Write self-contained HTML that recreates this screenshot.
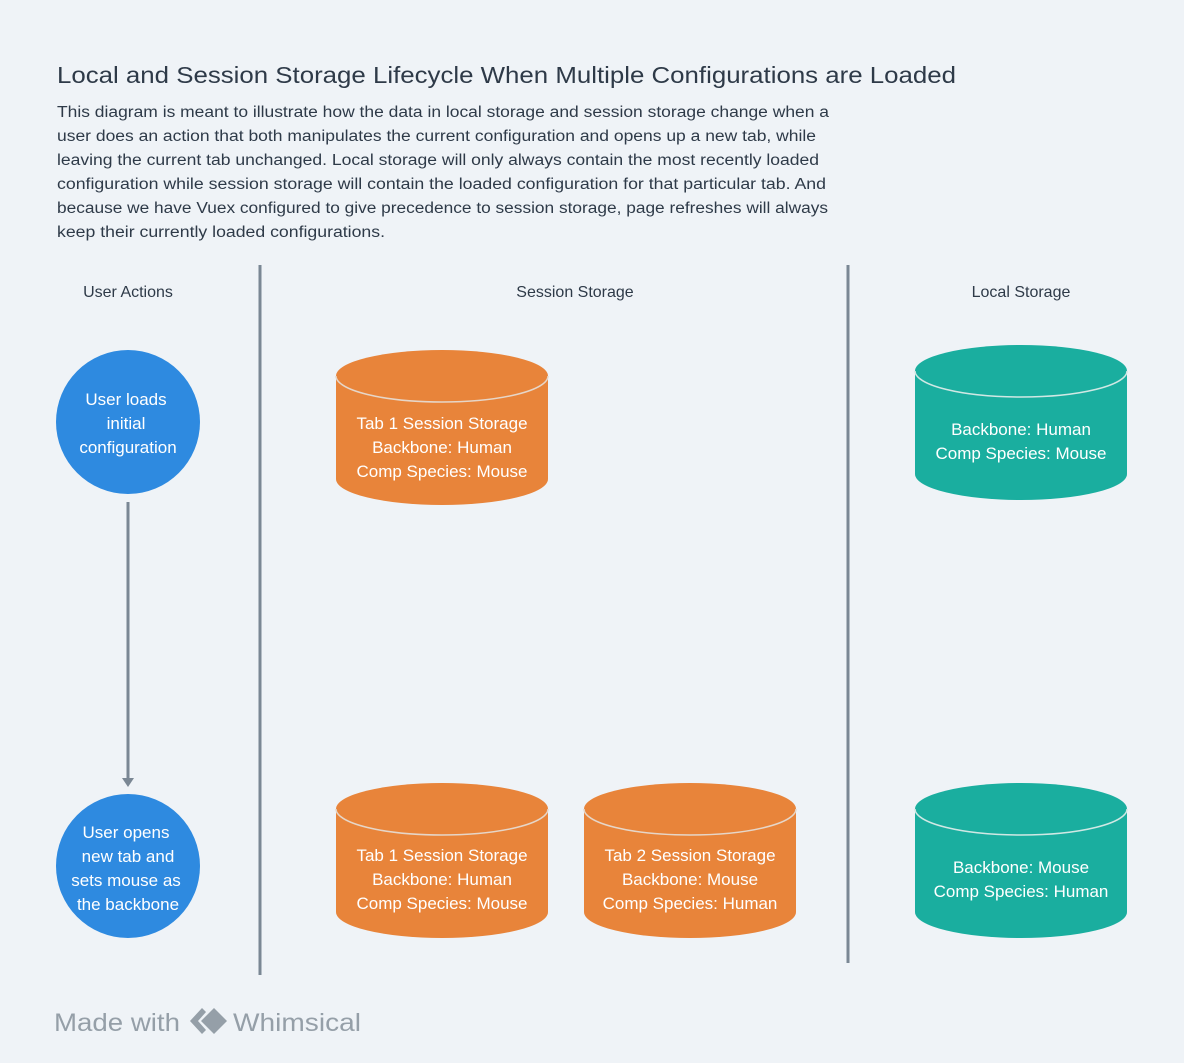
<!DOCTYPE html>
<html><head><meta charset="utf-8"><style>
html,body{margin:0;padding:0;background:#eff3f7;}
svg{display:block;}
text{font-family:"Liberation Sans",sans-serif;}
</style></head><body>
<svg width="1184" height="1063" viewBox="0 0 1184 1063">
<rect width="1184" height="1063" fill="#eff3f7"/>
<text x="57" y="83" font-size="23" fill="#2e3a48" textLength="899" lengthAdjust="spacingAndGlyphs">Local and Session Storage Lifecycle When Multiple Configurations are Loaded</text>
<g font-size="15.5" fill="#2e3a48" lengthAdjust="spacingAndGlyphs">
<text x="57" y="117" textLength="772" lengthAdjust="spacingAndGlyphs">This diagram is meant to illustrate how the data in local storage and session storage change when a</text>
<text x="57" y="141" textLength="759" lengthAdjust="spacingAndGlyphs">user does an action that both manipulates the current configuration and opens up a new tab, while</text>
<text x="57" y="165" textLength="762" lengthAdjust="spacingAndGlyphs">leaving the current tab unchanged. Local storage will only always contain the most recently loaded</text>
<text x="57" y="189" textLength="769" lengthAdjust="spacingAndGlyphs">configuration while session storage will contain the loaded configuration for that particular tab. And</text>
<text x="57" y="213" textLength="771" lengthAdjust="spacingAndGlyphs">because we have Vuex configured to give precedence to session storage, page refreshes will always</text>
<text x="57" y="237" textLength="328" lengthAdjust="spacingAndGlyphs">keep their currently loaded configurations.</text>
</g>
<g font-size="16" fill="#2e3a48" text-anchor="middle">
<text x="128" y="297">User Actions</text>
<text x="575" y="297">Session Storage</text>
<text x="1021" y="297">Local Storage</text>
</g>
<line x1="260" y1="265" x2="260" y2="975" stroke="#7a8794" stroke-width="3"/>
<line x1="848" y1="265" x2="848" y2="963" stroke="#7a8794" stroke-width="3"/>
<line x1="128" y1="502" x2="128" y2="778" stroke="#7a8794" stroke-width="3"/>
<polygon points="122,778 134,778 128,787" fill="#7a8794"/>
<g fill="#2e8ae0">
<circle cx="128" cy="422" r="72"/>
<circle cx="128" cy="866" r="72"/>
</g>
<g font-size="17" fill="#fff" text-anchor="middle">
<text x="126" y="405">User loads</text>
<text x="126" y="429">initial</text>
<text x="128" y="453">configuration</text>
<text x="126" y="838">User opens</text>
<text x="128" y="862">new tab and</text>
<text x="126" y="886">sets mouse as</text>
<text x="128" y="910">the backbone</text>
</g>
<defs>
<g id="cylO">
<path d="M0,26 A106,26 0 0 1 212,26 V129 A106,26 0 0 1 0,129 Z" fill="#e8843a"/>
<path d="M0,26 A106,26 0 0 0 212,26" fill="none" stroke="#e6d6c8" stroke-width="1.5"/>
</g>
<g id="cylT">
<path d="M0,26 A106,26 0 0 1 212,26 V129 A106,26 0 0 1 0,129 Z" fill="#1aae9f"/>
<path d="M0,26 A106,26 0 0 0 212,26" fill="none" stroke="#d0e8e4" stroke-width="1.5"/>
</g>
</defs>
<use href="#cylO" x="336" y="350"/>
<use href="#cylT" x="915" y="345"/>
<use href="#cylO" x="336" y="783"/>
<use href="#cylO" x="584" y="783"/>
<use href="#cylT" x="915" y="783"/>
<g font-size="17" fill="#fff" text-anchor="middle">
<text x="442" y="429">Tab 1 Session Storage</text>
<text x="442" y="453">Backbone: Human</text>
<text x="442" y="477">Comp Species: Mouse</text>
<text x="1021" y="435">Backbone: Human</text>
<text x="1021" y="459">Comp Species: Mouse</text>
<text x="442" y="861">Tab 1 Session Storage</text>
<text x="442" y="885">Backbone: Human</text>
<text x="442" y="909">Comp Species: Mouse</text>
<text x="690" y="861">Tab 2 Session Storage</text>
<text x="690" y="885">Backbone: Mouse</text>
<text x="690" y="909">Comp Species: Human</text>
<text x="1021" y="873">Backbone: Mouse</text>
<text x="1021" y="897">Comp Species: Human</text>
</g>
<g fill="#959fa8">
<text x="54" y="1031" font-size="25" textLength="126" lengthAdjust="spacingAndGlyphs">Made with</text>
<path d="M202,1008 L190,1021 L202,1034 L206,1030 L198,1021 L206,1012 Z"/>
<path d="M214,1008 L227,1021 L214,1034 L201,1021 Z"/>
<text x="233" y="1031" font-size="25" textLength="128" lengthAdjust="spacingAndGlyphs">Whimsical</text>
</g>
</svg>
</body></html>
